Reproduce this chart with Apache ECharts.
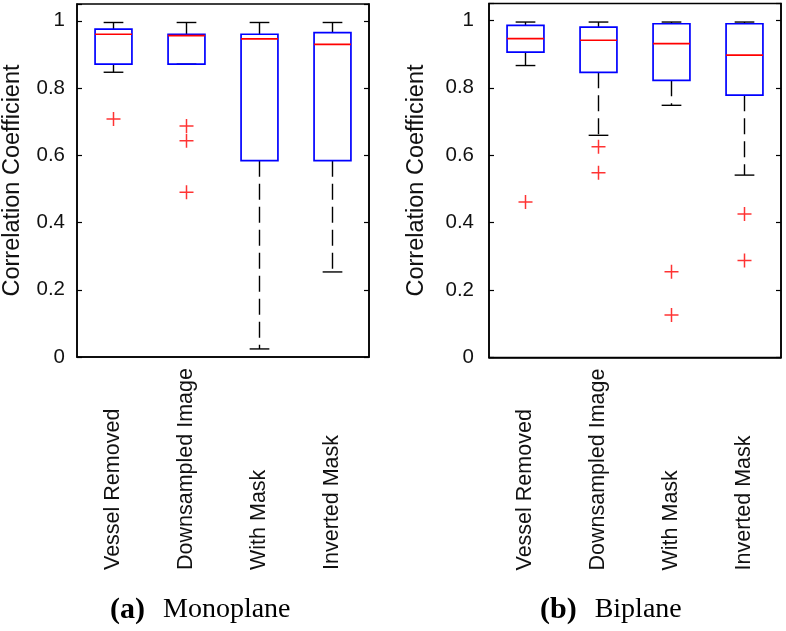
<!DOCTYPE html>
<html>
<head>
<meta charset="utf-8">
<script src="https://cdn.jsdelivr.net/npm/echarts@6/dist/echarts.min.js"></script>
<style>
html,body{margin:0;padding:0;background:#fff;}
#main{width:786px;height:631px;}
</style>
</head>
<body>
<div id="main"></div>
<script>
// ---- data ----
const categories = ['Vessel Removed', 'Downsampled Image', 'With Mask', 'Inverted Mask'];
const yTicks = [0, 0.2, 0.4, 0.6, 0.8, 1];
// [lower whisker, Q1, median, Q3, upper whisker]
const monoBoxes = [
  [0.847, 0.871, 0.960, 0.975, 0.995],
  [0.871, 0.871, 0.956, 0.960, 0.995],
  [0.024, 0.584, 0.946, 0.960, 0.995],
  [0.253, 0.584, 0.930, 0.965, 0.995]
];
const monoOutliers = [[0, 0.708], [1, 0.687], [1, 0.643], [1, 0.490]];
const biBoxes = [
  [0.866, 0.906, 0.946, 0.985, 0.995],
  [0.659, 0.846, 0.941, 0.980, 0.995],
  [0.748, 0.822, 0.931, 0.990, 0.995],
  [0.541, 0.778, 0.897, 0.990, 0.995]
];
const biOutliers = [[0, 0.461], [1, 0.625], [1, 0.548], [2, 0.254], [2, 0.126], [3, 0.426], [3, 0.288]];
const captions = [['(a)', 'Monoplane'], ['(b)', 'Biplane']];
const yName = 'Correlation Coefficient';

// ---- chart ----
const chart = echarts.init(document.getElementById('main'), null, {renderer: 'canvas'});
const SANS = 'Liberation Sans, Arial, sans-serif';
const SERIF = 'Liberation Serif, Times New Roman, serif';

function renderBox(params, api) {
  const i = api.value(0);
  const lo = api.coord([i, api.value(1)]);
  const q1 = api.coord([i, api.value(2)]);
  const md = api.coord([i, api.value(3)]);
  const q3 = api.coord([i, api.value(4)]);
  const hi = api.coord([i, api.value(5)]);
  const band = api.size([1, 0])[0];
  const bw = band * 0.505;
  const cw = band * 0.27;
  const cx = q1[0];
  const dash = {stroke: '#000', lineWidth: 1.4, lineDash: [16, 7]};
  const solid = {stroke: '#000', lineWidth: 1.4};
  return {
    type: 'group',
    children: [
      {type: 'line', shape: {x1: cx, y1: q3[1], x2: cx, y2: hi[1]}, style: dash},
      {type: 'line', shape: {x1: cx, y1: q1[1], x2: cx, y2: lo[1]}, style: dash},
      {type: 'line', shape: {x1: cx - cw / 2, y1: hi[1], x2: cx + cw / 2, y2: hi[1]}, style: solid},
      {type: 'line', shape: {x1: cx - cw / 2, y1: lo[1], x2: cx + cw / 2, y2: lo[1]}, style: solid},
      {type: 'rect', shape: {x: cx - bw / 2, y: q3[1], width: bw, height: q1[1] - q3[1]},
        style: {fill: 'none', stroke: '#0000FF', lineWidth: 1.7}},
      {type: 'line', shape: {x1: cx - bw / 2, y1: md[1], x2: cx + bw / 2, y2: md[1]},
        style: {stroke: '#FF0000', lineWidth: 1.7}}
    ]
  };
}

const grids = [
  {left: 77, top: 4, width: 292, height: 353},
  {left: 489, top: 3.5, width: 292, height: 354}
];
const nameGaps = [52, 60];
const labelMargins = [12, 15];

const xAxes = [], yAxes = [], series = [];
[monoBoxes, biBoxes].forEach((boxes, g) => {
  xAxes.push({
    type: 'category', gridIndex: g, data: categories,
    axisLine: {show: true, lineStyle: {color: '#000', width: 1.5}},
    axisTick: {show: false},
    splitLine: {show: false},
    axisLabel: {
      interval: 0, rotate: 90, align: 'left', verticalAlign: 'middle', margin: 213,
      fontFamily: SANS, fontSize: 21.5, color: '#111'
    }
  });
  yAxes.push({
    type: 'value', gridIndex: g, min: 0, max: 1.05, interval: 0.2, position: 'left',
    name: yName, nameLocation: 'middle', nameGap: nameGaps[g], nameRotate: 90,
    nameTextStyle: {fontFamily: SANS, fontSize: 23.5, color: '#111'},
    axisLine: {show: true, lineStyle: {color: '#000', width: 1.5}},
    axisTick: {show: true, inside: true, length: 5, lineStyle: {color: '#000', width: 1.2}},
    splitLine: {show: false},
    axisLabel: {
      margin: labelMargins[g], fontFamily: SANS, fontSize: 20.5, color: '#111',
      formatter: v => {
        const t = yTicks.find(k => Math.abs(k - v) < 1e-6);
        return t === undefined ? '' : String(t);
      }
    }
  });
  yAxes.push({
    type: 'value', gridIndex: g, min: 0, max: 1.05, interval: 0.2, position: 'right',
    axisLine: {show: true, lineStyle: {color: '#000', width: 1.5}},
    axisTick: {show: true, inside: true, length: 5, lineStyle: {color: '#000', width: 1.2}},
    axisLabel: {show: false},
    splitLine: {show: false}
  });
  series.push({
    type: 'custom', xAxisIndex: g, yAxisIndex: g * 2,
    renderItem: renderBox,
    encode: {x: 0, y: [1, 2, 3, 4, 5]},
    data: boxes.map((b, i) => [i].concat(b)),
    silent: true
  });
  series.push({
    type: 'scatter', xAxisIndex: g, yAxisIndex: g * 2,
    data: (g === 0 ? monoOutliers : biOutliers),
    symbol: 'path://M0,7 L14,7 M7,0 L7,14',
    symbolSize: 14,
    itemStyle: {color: 'none', borderColor: '#FF0000', borderWidth: 1.5},
    silent: true
  });
});

const titles = captions.map((c, g) => ({
  text: '{b|' + c[0] + '}{n|' + c[1] + '}',
  left: g === 0 ? 105 : 535,
  top: 590,
  textStyle: {
    fontWeight: 'normal',
    rich: {
      b: {fontFamily: SERIF, fontWeight: 'bold', fontSize: 30, color: '#000'},
      n: {fontFamily: SERIF, fontWeight: 'normal', fontSize: 28, color: '#000', padding: [0, 0, 0, 18]}
    }
  }
}));

chart.setOption({
  backgroundColor: '#fff',
  animation: false,
  title: titles,
  grid: grids.map(gr => Object.assign({show: true, borderColor: '#000', borderWidth: 1.5, backgroundColor: 'transparent'}, gr)),
  xAxis: xAxes,
  yAxis: yAxes,
  series: series
});
</script>
</body>
</html>
